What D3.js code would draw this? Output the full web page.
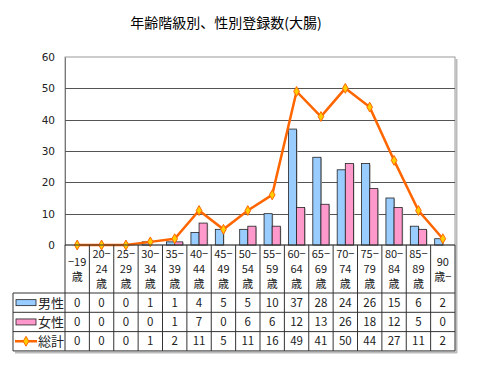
<!DOCTYPE html>
<html>
<head>
<meta charset="utf-8">
<script src="https://cdn.jsdelivr.net/npm/d3@7"></script>
<style>
  body { margin: 0; background: #fff; }
  text { font-family: "Noto Sans CJK JP", "DejaVu Sans", sans-serif; }
</style>
</head>
<body>
<script>
// chart data
var categories = [['−19', '歳'], ['20−', '24', '歳'], ['25−', '29', '歳'], ['30−', '34', '歳'],
	['35−', '39', '歳'], ['40−', '44', '歳'], ['45−', '49', '歳'], ['50−', '54', '歳'],
	['55−', '59', '歳'], ['60−', '64', '歳'], ['65−', '69', '歳'], ['70−', '74', '歳'],
	['75−', '79', '歳'], ['80−', '84', '歳'], ['85−', '89', '歳'], ['90', '歳−']];
var male = [0, 0, 0, 1, 1, 4, 5, 5, 10, 37, 28, 24, 26, 15, 6, 2];
var female = [0, 0, 0, 0, 1, 7, 0, 6, 6, 12, 13, 26, 18, 12, 5, 0];
var total = [0, 0, 0, 1, 2, 11, 5, 11, 16, 49, 41, 50, 44, 27, 11, 2];
var yTicks = [0, 10, 20, 30, 40, 50, 60];
var seriesNames = ['男性', '女性', '総計'];

var W = 480, H = 372;
var plot = { left: 65, right: 455, top: 57, bottom: 245 };
var table = { left: 13, headBottom: 293, rowH: 19.3 };

var svg = d3.select('body').append('svg')
	.attr('width', W)
	.attr('height', H);

var idx = d3.range(categories.length);
var x = d3.scaleBand().domain(idx).range([plot.left, plot.right]).paddingInner(0).paddingOuter(0);
var inner = d3.scaleBand().domain([0, 1]).range([0, x.bandwidth()]).paddingInner(0).paddingOuter(0.5);
var y = d3.scaleLinear().domain([0, 60]).range([plot.bottom, plot.top]);

// title
svg.append('text')
	.attr('x', 226)
	.attr('y', 28)
	.attr('text-anchor', 'middle')
	.attr('font-size', 14)
	.attr('fill', '#000')
	.text('年齢階級別、性別登録数(大腸)');

// plot frame + grid
svg.append('rect')
	.attr('x', plot.left).attr('y', plot.top)
	.attr('width', plot.right - plot.left).attr('height', plot.bottom - plot.top)
	.attr('fill', '#fff').attr('stroke', '#9a9a9a').attr('stroke-width', 1);

var yAxis = d3.axisLeft(y).tickValues(yTicks).tickSize(0).tickPadding(10);
var yg = svg.append('g')
	.attr('transform', 'translate(' + plot.left + ',0)')
	.call(yAxis);
yg.select('.domain').attr('stroke', '#777');
yg.selectAll('text').attr('font-size', 11).attr('fill', '#222')
	.style('font-family', '"DejaVu Sans", sans-serif').attr('font-size', 10.5);

svg.append('g').selectAll('line')
	.data(yTicks.filter(function(d){ return d > 0 && d < 60; }))
	.enter().append('line')
	.attr('x1', plot.left).attr('x2', plot.right)
	.attr('y1', function(d){ return Math.round(y(d)) + 0.5; })
	.attr('y2', function(d){ return Math.round(y(d)) + 0.5; })
	.attr('stroke', '#555').attr('stroke-width', 1);

// bars
function drawBars(values, k, fill){
	var g = svg.append('g');
	g.selectAll('rect.shadow')
		.data(values).enter().append('rect')
		.attr('x', function(d, i){ return x(i) + inner(k) + 1; })
		.attr('y', function(d){ return y(d) + 1; })
		.attr('width', inner.bandwidth())
		.attr('height', function(d){ return plot.bottom - y(d); })
		.attr('fill', '#b8b8b8')
		.attr('display', function(d){ return d > 0 ? null : 'none'; });
	g.selectAll('rect.bar')
		.data(values).enter().append('rect')
		.attr('x', function(d, i){ return x(i) + inner(k); })
		.attr('y', function(d){ return y(d); })
		.attr('width', inner.bandwidth())
		.attr('height', function(d){ return plot.bottom - y(d); })
		.attr('fill', fill)
		.attr('stroke', '#222').attr('stroke-width', 0.8)
		.attr('display', function(d){ return d > 0 ? null : 'none'; });
}
drawBars(male, 0, '#99ccff');
drawBars(female, 1, '#ff99cc');

// total line
var line = d3.line()
	.x(function(d, i){ return x(i) + x.bandwidth() / 2; })
	.y(function(d){ return y(d); });
svg.append('path')
	.datum(total)
	.attr('d', line)
	.attr('fill', 'none')
	.attr('stroke', '#ff6600')
	.attr('stroke-width', 2.5);

var diamond = d3.symbol().type(d3.symbolDiamond).size(28);
svg.append('g').selectAll('path')
	.data(total).enter().append('path')
	.attr('d', diamond)
	.attr('transform', function(d, i){ return 'translate(' + (x(i) + x.bandwidth() / 2) + ',' + y(d) + ')'; })
	.attr('fill', '#ffcc00')
	.attr('stroke', '#ff6600')
	.attr('stroke-width', 1);

// data table
var rowsTop = table.headBottom;
var tableBottom = rowsTop + table.rowH * 3;
var tg = svg.append('g');

// shadow
tg.append('line').attr('x1', table.left + 2).attr('x2', plot.right + 2)
	.attr('y1', tableBottom + 1.5).attr('y2', tableBottom + 1.5)
	.attr('stroke', '#bbb').attr('stroke-width', 2);
tg.append('line').attr('x1', plot.right + 1.5).attr('x2', plot.right + 1.5)
	.attr('y1', plot.top + 2).attr('y2', tableBottom + 2)
	.attr('stroke', '#bbb').attr('stroke-width', 2);

// vertical lines
tg.selectAll('line.v')
	.data(idx.concat([categories.length]))
	.enter().append('line')
	.attr('x1', function(d){ return d === categories.length ? plot.right : x(d); })
	.attr('x2', function(d){ return d === categories.length ? plot.right : x(d); })
	.attr('y1', plot.bottom).attr('y2', tableBottom)
	.attr('stroke', '#333').attr('stroke-width', 1);
tg.append('line').attr('x1', table.left).attr('x2', table.left)
	.attr('y1', rowsTop).attr('y2', tableBottom)
	.attr('stroke', '#333');

// horizontal lines
tg.append('line').attr('x1', plot.left).attr('x2', plot.right)
	.attr('y1', plot.bottom).attr('y2', plot.bottom).attr('stroke', '#333');
tg.selectAll('line.h')
	.data([0, 1, 2, 3])
	.enter().append('line')
	.attr('x1', table.left).attr('x2', plot.right)
	.attr('y1', function(d){ return rowsTop + d * table.rowH; })
	.attr('y2', function(d){ return rowsTop + d * table.rowH; })
	.attr('stroke', '#333').attr('stroke-width', 1);

// category headers
var headMid = (plot.bottom + rowsTop) / 2;
categories.forEach(function(lines, i){
	var t = tg.append('text')
		.attr('text-anchor', 'middle')
		.attr('font-size', 11)
		.attr('fill', '#222');
	var lh = 15;
	var y0 = headMid - (lines.length - 1) * lh / 2 + 4;
	lines.forEach(function(s, j){
		t.append('tspan')
			.attr('x', x(i) + x.bandwidth() / 2)
			.attr('y', y0 + j * lh)
			.text(s);
	});
});

// values
[male, female, total].forEach(function(vals, r){
	tg.append('g').selectAll('text')
		.data(vals).enter().append('text')
		.attr('x', function(d, i){ return x(i) + x.bandwidth() / 2; })
		.attr('y', rowsTop + r * table.rowH + table.rowH / 2 + 4)
		.attr('text-anchor', 'middle')
		.attr('font-size', 11.5)
		.attr('fill', '#222')
		.text(function(d){ return d; });
});

// legend keys
var keyY = function(r){ return rowsTop + r * table.rowH + table.rowH / 2; };
tg.append('rect').attr('x', 16).attr('y', keyY(0) - 3).attr('width', 20).attr('height', 6)
	.attr('fill', '#99ccff').attr('stroke', '#222').attr('stroke-width', 0.8);
tg.append('rect').attr('x', 16).attr('y', keyY(1) - 3).attr('width', 20).attr('height', 6)
	.attr('fill', '#ff99cc').attr('stroke', '#222').attr('stroke-width', 0.8);
tg.append('line').attr('x1', 15).attr('x2', 37).attr('y1', keyY(2)).attr('y2', keyY(2))
	.attr('stroke', '#ff6600').attr('stroke-width', 2.5);
tg.append('path').attr('d', diamond)
	.attr('transform', 'translate(26,' + keyY(2) + ')')
	.attr('fill', '#ffcc00').attr('stroke', '#ff6600');

seriesNames.forEach(function(n, r){
	tg.append('text')
		.attr('x', 38)
		.attr('y', keyY(r) + 5)
		.attr('font-size', 13)
		.attr('fill', '#222')
		.text(n);
});
</script>
</body>
</html>
